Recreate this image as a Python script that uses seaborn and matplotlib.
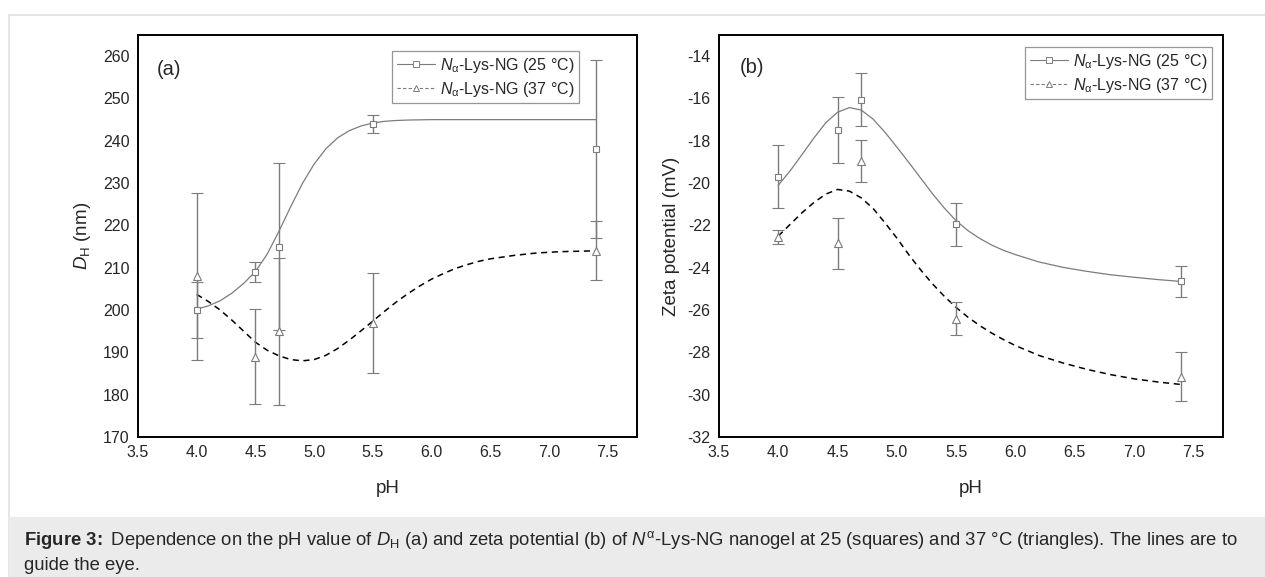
import seaborn as sns
import pandas as pd
import numpy as np
import matplotlib.pyplot as plt
from matplotlib.lines import Line2D
from matplotlib.patches import Rectangle

# measured points (pH, value, error)
ph_points = [4.0, 4.5, 4.7, 5.5, 7.4]

dh_25 = [200, 209, 215, 244, 238]
dh_25_err = [6.7, 2.3, 19.8, 2.2, 21.0]
dh_37 = [208, 189, 195, 197, 214]
dh_37_err = [19.7, 11.3, 17.4, 11.8, 7.0]

zeta_25 = [-19.7, -17.5, -16.05, -21.95, -24.65]
zeta_25_err = [1.5, 1.55, 1.25, 1.0, 0.75]
zeta_37 = [-22.55, -22.85, -18.95, -26.4, -29.15]
zeta_37_err = [0.35, 1.2, 1.0, 0.8, 1.15]

# guide-the-eye curves
dh_fit25_ph = [4.0, 4.1, 4.2, 4.3, 4.4, 4.5, 4.6, 4.7, 4.8, 4.9, 5.0, 5.1, 5.2, 5.3,
               5.4, 5.5, 5.6, 5.7, 5.8, 6.0, 6.5, 7.0, 7.4]
dh_fit25 = [200.2, 201.0, 202.2, 204.0, 206.3, 209.1, 213.2, 218.6, 224.4, 229.9, 234.5,
            238.1, 240.7, 242.4, 243.5, 244.2, 244.6, 244.8, 244.9, 245.0, 245.0, 245.0, 245.0]
dh_fit37_ph = [4.0, 4.1, 4.2, 4.3, 4.4, 4.5, 4.6, 4.7, 4.8, 4.9, 5.0, 5.1, 5.2, 5.3, 5.4,
               5.5, 5.6, 5.7, 5.8, 5.9, 6.0, 6.1, 6.2, 6.3, 6.4, 6.5, 6.7, 6.9, 7.1, 7.4]
dh_fit37 = [203.7, 202.0, 200.0, 197.6, 195.0, 192.4, 190.5, 189.2, 188.3, 188.0, 188.3,
            189.3, 190.9, 192.9, 195.1, 197.4, 199.7, 201.9, 203.9, 205.7, 207.3, 208.6,
            209.8, 210.7, 211.5, 212.1, 212.9, 213.5, 213.8, 214.0]

zeta_fit_ph = [4.0, 4.1, 4.2, 4.3, 4.4, 4.5, 4.6, 4.7, 4.8, 4.9, 5.0, 5.1, 5.2, 5.3, 5.4,
               5.5, 5.6, 5.7, 5.8, 5.9, 6.0, 6.2, 6.4, 6.6, 6.8, 7.0, 7.2, 7.4]
zeta_fit25 = [-20.1, -19.42, -18.65, -17.87, -17.15, -16.65, -16.43, -16.55, -16.98, -17.6,
              -18.3, -19.02, -19.76, -20.5, -21.18, -21.78, -22.25, -22.62, -22.93, -23.18,
              -23.38, -23.73, -23.98, -24.17, -24.33, -24.45, -24.56, -24.65]
zeta_fit37 = [-22.5, -21.95, -21.4, -20.92, -20.52, -20.3, -20.38, -20.7, -21.2, -21.88,
              -22.6, -23.38, -24.1, -24.76, -25.35, -25.88, -26.34, -26.74, -27.09, -27.4,
              -27.68, -28.15, -28.5, -28.8, -29.05, -29.25, -29.4, -29.52]

legend_labels = [r"$\mathit{N}_{\mathrm{\alpha}}$-Lys-NG (25 °C)",
                 r"$\mathit{N}_{\mathrm{\alpha}}$-Lys-NG (37 °C)"]

sns.set_style("white")
plt.rcParams['font.family'] = ['Liberation Sans', 'DejaVu Sans']
plt.rcParams['mathtext.fontset'] = 'custom'
plt.rcParams['mathtext.rm'] = 'Liberation Sans'
plt.rcParams['mathtext.it'] = 'Liberation Sans:italic'
plt.rcParams['mathtext.bf'] = 'Liberation Sans:bold'

gray = '#7c7c7c'
ticks_size = 11.5
labels_size = 13.5

fig = plt.figure(figsize=(12.65, 5.77), dpi=100)

# page frame and caption box
fig.patches.append(Rectangle((9 / 1265, 0), 1.2, (577 - 15) / 577, transform=fig.transFigure,
                             facecolor='none', edgecolor='#e2e2e2', linewidth=1.2, zorder=0))
fig.patches.append(Rectangle((9 / 1265, 0), 1.2, 60 / 577, transform=fig.transFigure,
                             facecolor='#ebebeb', edgecolor='none', zorder=0))

ax1 = fig.add_axes([138 / 1265, 140 / 577, 499 / 1265, 402 / 577])
ax2 = fig.add_axes([719 / 1265, 140 / 577, 504 / 1265, 402 / 577])


def panel(ax, y25, e25, y37, e37, fx25, f25, fx37, f37):
    sns.lineplot(x=fx25, y=f25, ax=ax, color=gray, linewidth=0.9, sort=False)
    sns.lineplot(x=fx37, y=f37, ax=ax, color='black', linewidth=1.1, sort=False,
                 linestyle=(0, (4, 3)))
    ax.errorbar(ph_points, y25, yerr=e25, fmt='s', ms=4.5, mfc='white', mec=gray, mew=0.8,
                ecolor=gray, elinewidth=1, capsize=4, capthick=1, zorder=3)
    ax.errorbar(ph_points, y37, yerr=e37, fmt='^', ms=5.5, mfc='white', mec=gray, mew=0.8,
                ecolor=gray, elinewidth=1, capsize=4, capthick=1, zorder=3)
    ax.set_xlim(3.5, 7.75)
    ax.set_xticks(np.arange(3.5, 7.51, 0.5))
    ax.set_xticklabels([f"{t:.1f}" for t in np.arange(3.5, 7.51, 0.5)])
    ax.tick_params(direction='in', length=5.3, width=1, labelsize=ticks_size, pad=6,
                   top=False, right=False)
    for s in ax.spines.values():
        s.set_linewidth(1.4)
        s.set_color('black')
    ax.set_xlabel("pH", fontsize=labels_size, labelpad=14)


panel(ax1, dh_25, dh_25_err, dh_37, dh_37_err, dh_fit25_ph, dh_fit25, dh_fit37_ph, dh_fit37)
ax1.set_ylim(170, 265)
ax1.set_yticks(np.arange(170, 261, 10))
ax1.set_ylabel(r"$\mathit{D}_{\mathrm{H}}$ (nm)", fontsize=labels_size, labelpad=7)
ax1.text(0.038, 0.915, "(a)", transform=ax1.transAxes, fontsize=14.5, va='center')

panel(ax2, zeta_25, zeta_25_err, zeta_37, zeta_37_err, zeta_fit_ph, zeta_fit25, zeta_fit_ph, zeta_fit37)
ax2.set_ylim(-32, -13)
ax2.set_yticks(np.arange(-32, -13.9, 2))
ax2.set_yticklabels([f"{int(t)}" for t in np.arange(-32, -13.9, 2)])
ax2.set_ylabel("Zeta potential (mV)", fontsize=labels_size, labelpad=5)
ax2.text(0.042, 0.919, "(b)", transform=ax2.transAxes, fontsize=14.5, va='center')

handles = [
    Line2D([], [], color=gray, linewidth=0.8, marker='s', ms=4, mfc='white', mec=gray, mew=0.7),
    Line2D([], [], color=gray, linewidth=0.8, linestyle=(0, (3, 2)), marker='^', ms=5,
           mfc='white', mec=gray, mew=0.7),
]
for ax, anchor in [(ax1, (0.884, 0.96)), (ax2, (0.978, 0.97))]:
    leg = ax.legend(handles, legend_labels, loc='upper right', bbox_to_anchor=anchor,
                    fontsize=ticks_size, frameon=True, fancybox=False, handlelength=2.4,
                    borderpad=0.3, labelspacing=0.3, handletextpad=0.3, borderaxespad=0)
    leg.get_frame().set_edgecolor(gray)
    leg.get_frame().set_linewidth(0.9)

fig.text(24 / 1265, 1 - 540 / 577,
         r"$\mathbf{Figure\ 3\!:}$ Dependence on the pH value of $\mathit{D}_{\mathrm{H}}$ (a) and zeta potential (b) of "
         r"$\mathit{N}^{\mathrm{\alpha}}$-Lys-NG nanogel at 25 (squares) and 37 °C (triangles). The lines are to",
         fontsize=13.3, va='center')
fig.text(24 / 1265, 1 - 565 / 577, "guide the eye.", fontsize=13.3, va='center')

plt.savefig("out.png", dpi=100)
